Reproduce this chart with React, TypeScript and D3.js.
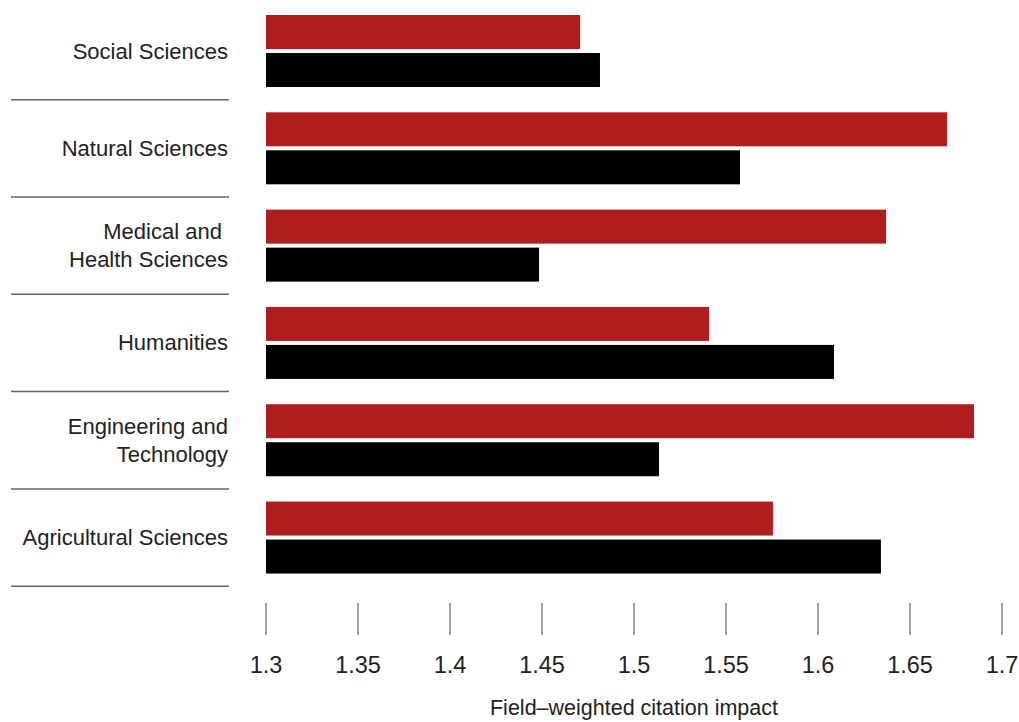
import React from "react";
import * as d3 from "d3";

const categories = [
  "Social Sciences",
  "Natural Sciences",
  "Medical and |Health Sciences",
  "Humanities",
  "Engineering and|Technology",
  "Agricultural Sciences",
];
const redValues = [1.4707, 1.6701, 1.637, 1.5408, 1.6848, 1.5755];
const blackValues = [1.4815, 1.5576, 1.4484, 1.6087, 1.5136, 1.6342];
const tickValues = [1.3, 1.35, 1.4, 1.45, 1.5, 1.55, 1.6, 1.65, 1.7];
const axisTitle = "Field\u2013weighted citation impact";

export default function App() {
  const W = 1019;
  const H = 722;
  const x = d3.scaleLinear().domain([1.3, 1.7]).range([266, 1002]);
  const y = d3.scaleBand<string>().domain(categories).range([2.35, 586.2]).paddingInner(0).paddingOuter(0);
  const bw = y.bandwidth();
  const barH = 34;
  const gap = 4;
  const font = "'Liberation Sans', Arial, sans-serif";
  const red = "#ae1e1f";

  return (
    <svg width={W} height={H} style={{ position: "absolute", left: 0, top: 0, background: "#fff" }} fontFamily={font}>
      {categories.map((c, i) => {
        const y0 = y(c)!;
        const cy = y0 + bw / 2;
        const lines = c.split("|");
        const lh = 28;
        return (
          <g key={c}>
            <rect x={x(1.3)} y={cy - gap / 2 - barH} width={x(redValues[i]) - x(1.3)} height={barH} fill={red} />
            <rect x={x(1.3)} y={cy + gap / 2} width={x(blackValues[i]) - x(1.3)} height={barH} fill="#000" />
            <text x={228} y={cy} textAnchor="end" fontSize={22} fill="#222" style={{ whiteSpace: "pre" }}>
              {lines.map((l, k) => (
                <tspan key={k} x={228} y={cy + (k - (lines.length - 1) / 2) * lh} dominantBaseline="central">
                  {l}
                </tspan>
              ))}
            </text>
            <line x1={11} x2={229} y1={y0 + bw} y2={y0 + bw} stroke="#666" strokeWidth={1.5} />
          </g>
        );
      })}
      {tickValues.map((t) => (
        <g key={t}>
          <line x1={x(t)} x2={x(t)} y1={603} y2={635} stroke="#444" strokeWidth={1} />
          <text x={x(t)} y={665} textAnchor="middle" dominantBaseline="central" fontSize={23.5} fill="#222">
            {d3.format("")(t)}
          </text>
        </g>
      ))}
      <text x={(x(1.3) + x(1.7)) / 2} y={708} textAnchor="middle" dominantBaseline="central" fontSize={21.5} fill="#222">
        {axisTitle}
      </text>
    </svg>
  );
}
